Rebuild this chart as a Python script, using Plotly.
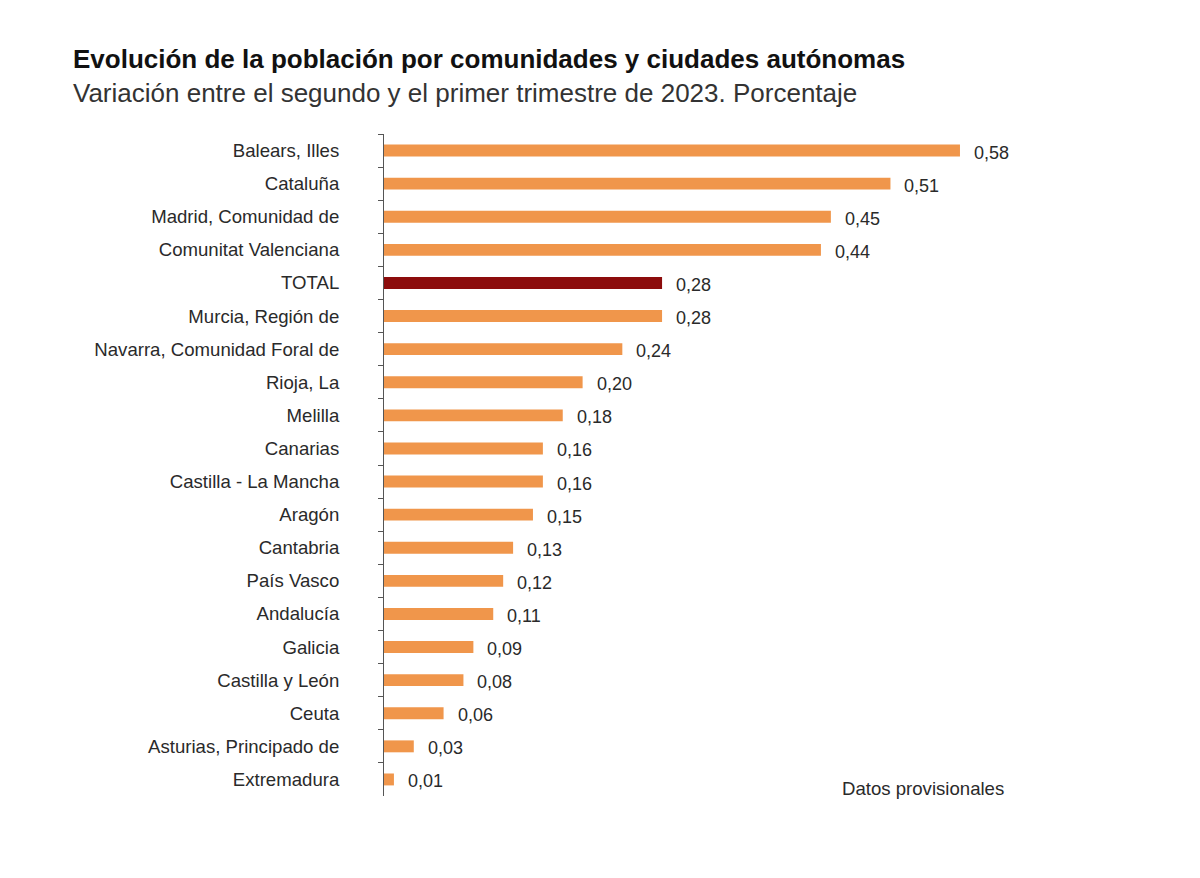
import plotly.graph_objects as go

regions = ["Balears, Illes", "Cataluña", "Madrid, Comunidad de", "Comunitat Valenciana",
           "TOTAL", "Murcia, Región de", "Navarra, Comunidad Foral de", "Rioja, La",
           "Melilla", "Canarias", "Castilla - La Mancha", "Aragón", "Cantabria",
           "País Vasco", "Andalucía", "Galicia", "Castilla y León", "Ceuta",
           "Asturias, Principado de", "Extremadura"]
values = [0.58, 0.51, 0.45, 0.44, 0.28, 0.28, 0.24, 0.20, 0.18, 0.16, 0.16, 0.15,
          0.13, 0.12, 0.11, 0.09, 0.08, 0.06, 0.03, 0.01]
labels = [f"{v:.2f}".replace(".", ",") for v in values]

ORANGE = "#F0964B"
DARKRED = "#8C0C0C"
colors = [DARKRED if r == "TOTAL" else ORANGE for r in regions]
FONT = "Liberation Sans, Arial"

fig = go.Figure()
fig.add_trace(go.Bar(
    x=values, y=regions, orientation="h",
    marker=dict(color=colors, line=dict(width=0)),
    width=0.36, hoverinfo="x+y",
))
for r, v, t in zip(regions, values, labels):
    fig.add_annotation(x=v, y=r, text=t, showarrow=False, xanchor="left",
                       xshift=12, yshift=-2,
                       font=dict(family=FONT, size=18, color="#2a2a2a"))

fig.add_annotation(xref="paper", yref="paper", x=0.754, y=0.012, text="Datos provisionales",
                   showarrow=False, xanchor="center", yanchor="middle",
                   font=dict(family=FONT, size=18.6, color="#2a2a2a"))

fig.update_layout(
    width=1200, height=878,
    paper_bgcolor="white", plot_bgcolor="white",
    margin=dict(l=376, r=109, t=126, b=90, autoexpand=False),
    showlegend=False,
    font=dict(family=FONT, color="#2a2a2a"),
    title=dict(
        text="<b>Evolución de la población por comunidades y ciudades autónomas</b><br>"
             "<span style='font-size:26px;color:#333333'>Variación entre el segundo y el primer trimestre de 2023. Porcentaje</span>",
        x=65 / 1200, xanchor="left", y=1 - 60 / 878, yanchor="top",
        font=dict(family=FONT, size=26, color="#111111"),
    ),
    xaxis=dict(range=[0, 0.72], visible=False, showgrid=False, zeroline=False),
    yaxis=dict(autorange="reversed", showgrid=False, zeroline=False, automargin=False,
               showline=True, linecolor="#555555", linewidth=1,
               ticks="outside", tickson="boundaries", ticklen=5, tickwidth=1,
               tickcolor="#555555",
               ticklabelstandoff=40,
               tickfont=dict(family=FONT, size=18.6, color="#2a2a2a")),
)

fig.write_html("out.html")
